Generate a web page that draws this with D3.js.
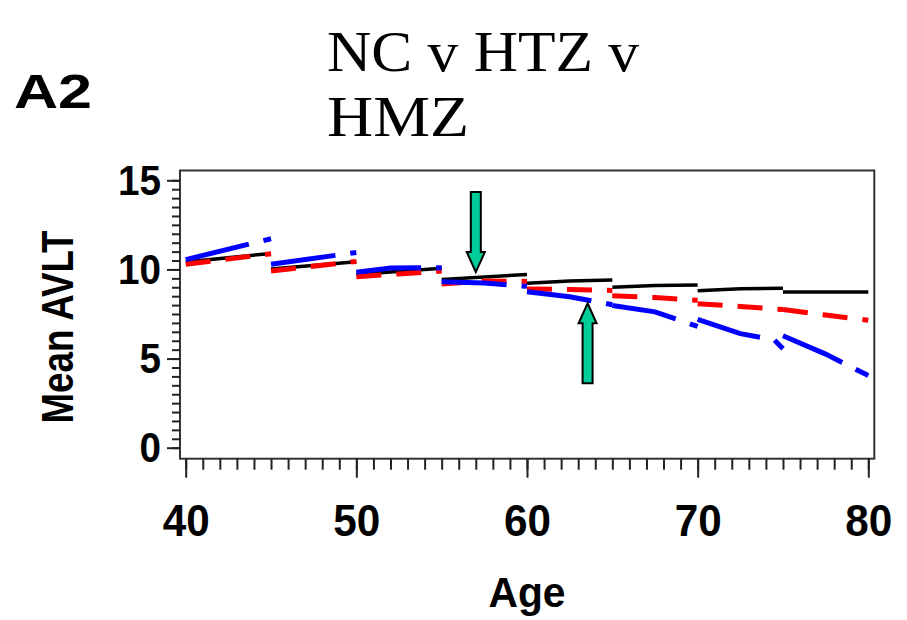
<!DOCTYPE html>
<html>
<head>
<meta charset="utf-8">
<script src="https://cdn.jsdelivr.net/npm/d3@7"></script>
<style>
  body { margin: 0; background: #fff; }
  svg { display: block; }
</style>
</head>
<body>
<svg width="907" height="620"></svg>
<script>
// mean AVLT by age, one piece per 5-year band: [age, value]
const ncSegments = [
  [[40, 10.42], [45, 10.9]],
  [[45, 10.02], [50, 10.43]],
  [[50, 9.72], [55, 10.06]],
  [[55, 9.44], [60, 9.72]],
  [[60, 9.22], [62.5, 9.35], [65, 9.41]],
  [[65, 9.0], [67.5, 9.1], [70, 9.12]],
  [[70, 8.81], [72.5, 8.92], [75, 8.94]],
  [[75, 8.73], [80, 8.73]]
];
const htzSegments = [
  [[40, 10.29], [45, 10.88]],
  [[45, 9.91], [50, 10.45]],
  [[50, 9.59], [52.5, 9.75], [55, 9.91]],
  [[55, 9.18], [57.5, 9.35], [60, 9.33]],
  [[60, 8.9], [62.5, 8.88], [65, 8.82]],
  [[65, 8.53], [67.5, 8.42], [70, 8.27]],
  [[70, 8.08], [72.5, 7.92], [75, 7.75]],
  [[75, 7.75], [77.5, 7.44], [80, 7.15]]
];
const hmzSegments = [
  [[40, 10.55], [45, 11.72]],
  [[45, 10.29], [50, 10.95]],
  [[50, 9.84], [52, 10.08], [55, 10.1]],
  [[55, 9.31], [57.5, 9.24], [60, 9.05]],
  [[60, 8.75], [62.5, 8.47], [65, 8.02]],
  [[65, 7.98], [67.5, 7.62], [70, 6.8]],
  [[70, 7.2], [72.5, 6.4], [74.5, 6.04], [75, 5.55]],
  [[75, 6.28], [77.5, 5.25], [80, 4.05]]
];
const xMajorTicks = [40, 50, 60, 70, 80];
const yMajorTicks = [0, 5, 10, 15];
const titleLines = ['NC v HTZ v', 'HMZ'];
// arrow tips: [age, value]
const downArrowTip = [57, 9.85];
const upArrowTip = [63.55, 8.1];

const svg = d3.select('svg');
const frame = { left: 180, right: 874.3, top: 170.5, bottom: 458.7 };

const x = d3.scaleLinear().domain([40, 80]).range([185.7, 868.3]);
const y = d3.scaleLinear().domain([0, 15]).range([447.7, 180.3]);

// panel letter and title
svg.append('text')
  .attr('x', 14).attr('y', 108)
  .attr('font-family', 'Liberation Sans, Arial, sans-serif')
  .attr('font-weight', 'bold').attr('font-size', 48)
  .attr('textLength', 78).attr('lengthAdjust', 'spacingAndGlyphs')
  .text('A2');
svg.selectAll('.title')
  .data(titleLines)
  .enter()
  .append('text')
  .attr('class', 'title')
  .attr('x', 327)
  .attr('y', (d, i) => 71 + i * 65)
  .attr('font-family', 'Liberation Serif, Times New Roman, serif')
  .attr('font-size', 58)
  .attr('textLength', (d, i) => i === 0 ? 312 : 142)
  .attr('lengthAdjust', 'spacingAndGlyphs')
  .text(d => d);

// frame
svg.append('rect')
  .attr('x', frame.left).attr('y', frame.top)
  .attr('width', frame.right - frame.left)
  .attr('height', frame.bottom - frame.top)
  .attr('fill', 'none').attr('stroke', '#333').attr('stroke-width', 2);

// x axis: minor ticks each year, labelled major ticks each decade
const xAxisG = svg.append('g').attr('transform', `translate(0,${frame.bottom})`);
xAxisG.append('g')
  .call(d3.axisBottom(x).tickValues(d3.range(40, 81, 1)).tickSize(11).tickFormat(''));
xAxisG.append('g')
  .call(d3.axisBottom(x).tickValues(xMajorTicks).tickSize(19).tickPadding(26).tickFormat(d3.format('d')));
xAxisG.selectAll('.domain').remove();
xAxisG.selectAll('line').attr('stroke', '#222').attr('stroke-width', 2);
xAxisG.selectAll('text')
  .attr('font-family', 'Liberation Sans, Arial, sans-serif')
  .attr('font-weight', 'bold').attr('font-size', 45).attr('fill', '#000')
  .attr('textLength', 47).attr('lengthAdjust', 'spacingAndGlyphs');

// y axis: minor ticks each 0.5
const yAxisG = svg.append('g').attr('transform', `translate(${frame.left},0)`);
yAxisG.append('g')
  .call(d3.axisLeft(y).tickValues(d3.range(0, 15.01, 0.5)).tickSize(8).tickFormat(''));
yAxisG.append('g')
  .call(d3.axisLeft(y).tickValues(yMajorTicks).tickSize(13).tickPadding(6).tickFormat(d3.format('d')));
yAxisG.selectAll('.domain').remove();
yAxisG.selectAll('line').attr('stroke', '#222').attr('stroke-width', 2);
yAxisG.selectAll('text')
  .attr('font-family', 'Liberation Sans, Arial, sans-serif')
  .attr('font-weight', 'bold').attr('font-size', 43).attr('fill', '#000')
  .attr('textLength', d => String(d).length * 21.5).attr('lengthAdjust', 'spacingAndGlyphs');

// axis titles
svg.append('text')
  .attr('x', 527).attr('y', 607).attr('text-anchor', 'middle')
  .attr('font-family', 'Liberation Sans, Arial, sans-serif')
  .attr('font-weight', 'bold').attr('font-size', 42)
  .attr('textLength', 77).attr('lengthAdjust', 'spacingAndGlyphs')
  .text('Age');
svg.append('text')
  .attr('transform', 'translate(73,327) rotate(-90)')
  .attr('text-anchor', 'middle')
  .attr('font-family', 'Liberation Sans, Arial, sans-serif')
  .attr('font-weight', 'bold').attr('font-size', 44)
  .attr('textLength', 193).attr('lengthAdjust', 'spacingAndGlyphs')
  .text('Mean AVLT');

// series
const line = d3.line().x(d => x(d[0])).y(d => y(d[1]));
const series = [
  { name: 'NC', segs: ncSegments, color: '#000000', width: 3.5, dash: null },
  { name: 'HTZ', segs: htzSegments, color: '#ff0000', width: 5, dash: '25,15' },
  { name: 'HMZ', segs: hmzSegments, color: '#0000ff', width: 5, dash: '65,15' }
];
series.forEach(s => {
  svg.append('g').attr('class', 'series-' + s.name)
    .selectAll('path')
    .data(s.segs)
    .enter()
    .append('path')
    .attr('d', line)
    .attr('fill', 'none')
    .attr('stroke', s.color)
    .attr('stroke-width', s.width)
    .attr('stroke-dasharray', s.dash);
});

// arrows (tip placed through the scales)
function arrow(tip, dir) {
  const tx = x(tip[0]), ty = y(tip[1]);
  const shaftW = 10, headW = 18, headL = 20, len = 80;
  const s = dir; // 1 = pointing down, -1 = pointing up
  const pts = [
    [tx, ty],
    [tx - headW / 2, ty - s * headL],
    [tx - shaftW / 2, ty - s * headL],
    [tx - shaftW / 2, ty - s * len],
    [tx + shaftW / 2, ty - s * len],
    [tx + shaftW / 2, ty - s * headL],
    [tx + headW / 2, ty - s * headL]
  ];
  svg.append('path')
    .attr('d', 'M' + pts.map(p => p.join(',')).join('L') + 'Z')
    .attr('fill', '#00cc99').attr('stroke', '#000').attr('stroke-width', 2);
}
arrow(downArrowTip, 1);
arrow(upArrowTip, -1);
</script>
</body>
</html>
